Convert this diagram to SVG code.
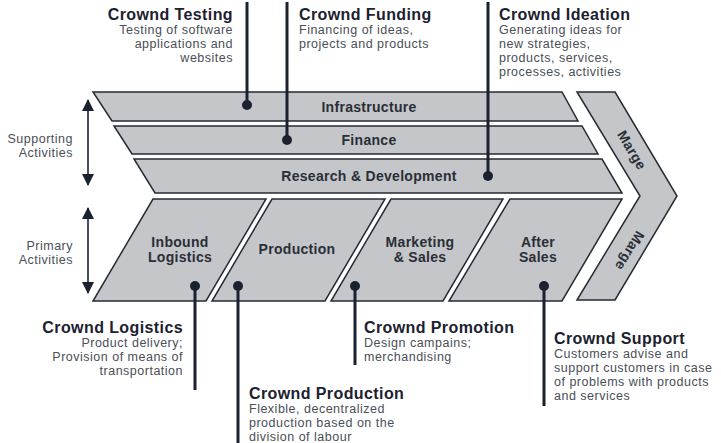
<svg xmlns="http://www.w3.org/2000/svg" width="721" height="443" viewBox="0 0 721 443">
  <defs>
    <style>
      .shape { fill: #c4c6c9; stroke: #252a35; stroke-width: 1.5; stroke-linejoin: miter; }
      .label { font-family: "Liberation Sans", Arial, sans-serif; font-weight: bold; font-size: 14px; letter-spacing: 0.3px; fill: #2a2e37; text-anchor: middle; }
      .title { font-family: "Liberation Sans", Arial, sans-serif; font-weight: bold; font-size: 16px; letter-spacing: 0.4px; fill: #1c2130; }
      .desc { font-family: "Liberation Sans", Arial, sans-serif; font-size: 12.5px; letter-spacing: 0.5px; fill: #4a4e57; }
      .side { font-family: "Liberation Sans", Arial, sans-serif; font-size: 12.5px; letter-spacing: 0.5px; fill: #4a4e57; text-anchor: end; }
      .end { text-anchor: end; }
      .lead { stroke: #1c2130; stroke-width: 3; fill: none; }
      .dot { fill: #1c2130; }
      .span { stroke: #4b4f57; stroke-width: 2; fill: none; marker-start: url(#head); marker-end: url(#head); }
    </style>
    <marker id="head" viewBox="0 0 12 12" refX="11" refY="6" markerWidth="12" markerHeight="12" markerUnits="userSpaceOnUse" orient="auto-start-reverse">
      <path d="M0,0 L12,6 L0,12 Z" fill="#1c2130"/>
    </marker>
  </defs>

  <!-- Support activity bands -->
  <g id="infrastructure">
    <polygon class="shape" points="93,92 562,92 578,121 112,121"/>
    <text class="label" x="369" y="112">Infrastructure</text>
  </g>
  <g id="finance">
    <polygon class="shape" points="114,126 582,126 598,154 132,154"/>
    <text class="label" x="369" y="145">Finance</text>
  </g>
  <g id="research-development">
    <polygon class="shape" points="134,159 602,159 622,193 155,193"/>
    <text class="label" x="369" y="181">Research &amp; Development</text>
  </g>

  <!-- Primary activity blocks -->
  <g id="inbound-logistics">
    <polygon class="shape" points="153,199 266,199 206,301 93,301"/>
    <text class="label" x="180" y="247">Inbound</text>
    <text class="label" x="180" y="262">Logistics</text>
  </g>
  <g id="production">
    <polygon class="shape" points="272,199 385,199 325,301 212,301"/>
    <text class="label" x="297" y="254">Production</text>
  </g>
  <g id="marketing-sales">
    <polygon class="shape" points="391,199 503,199 443,301 331,301"/>
    <text class="label" x="420" y="247">Marketing</text>
    <text class="label" x="420" y="262">&amp; Sales</text>
  </g>
  <g id="after-sales">
    <polygon class="shape" points="510,199 622,199 562,301 449,301"/>
    <text class="label" x="538" y="247">After</text>
    <text class="label" x="538" y="262">Sales</text>
  </g>

  <!-- Margin chevron -->
  <g id="marge">
    <polygon class="shape" points="577,92 615,92 677,196 615,300 577,300 640,196"/>
    <text class="label" font-size="13" transform="translate(632,150) rotate(59)" y="5">Marge</text>
    <text class="label" font-size="13" transform="translate(630,251) rotate(121)" y="5">Marge</text>
  </g>

  <!-- Activity range indicators -->
  <g id="supporting-activities">
    <line class="span" x1="88" y1="100" x2="88" y2="185"/>
    <text class="side" x="73" y="143">Supporting</text>
    <text class="side" x="73" y="157">Activities</text>
  </g>
  <g id="primary-activities">
    <line class="span" x1="88" y1="208" x2="88" y2="293"/>
    <text class="side" x="73" y="250">Primary</text>
    <text class="side" x="73" y="264">Activities</text>
  </g>

  <!-- Leader lines from each service to its activity -->
  <g id="connectors">
    <line class="lead" x1="247" y1="2" x2="247" y2="105"/>
    <circle class="dot" cx="247" cy="105" r="5"/>
    <line class="lead" x1="287" y1="2" x2="287" y2="140"/>
    <circle class="dot" cx="287" cy="140" r="5"/>
    <line class="lead" x1="488" y1="2" x2="488" y2="176"/>
    <circle class="dot" cx="488" cy="176" r="5"/>
    <line class="lead" x1="195" y1="286" x2="195" y2="390"/>
    <circle class="dot" cx="195" cy="286" r="5"/>
    <line class="lead" x1="238" y1="286" x2="238" y2="443"/>
    <circle class="dot" cx="238" cy="286" r="5"/>
    <line class="lead" x1="355" y1="286" x2="355" y2="365"/>
    <circle class="dot" cx="355" cy="286" r="5"/>
    <line class="lead" x1="544" y1="286" x2="544" y2="406"/>
    <circle class="dot" cx="544" cy="286" r="5"/>
  </g>

  <!-- Service descriptions -->
  <g id="crownd-testing">
    <text class="title end" x="233" y="20">Crownd Testing</text>
    <text class="desc end" x="233" y="34">Testing of software</text>
    <text class="desc end" x="233" y="48">applications and</text>
    <text class="desc end" x="233" y="62">websites</text>
  </g>
  <g id="crownd-funding">
    <text class="title" x="299" y="20">Crownd Funding</text>
    <text class="desc" x="299" y="34">Financing of ideas,</text>
    <text class="desc" x="299" y="48">projects and products</text>
  </g>
  <g id="crownd-ideation">
    <text class="title" x="499" y="20">Crownd Ideation</text>
    <text class="desc" x="499" y="34">Generating ideas for</text>
    <text class="desc" x="499" y="48">new strategies,</text>
    <text class="desc" x="499" y="62">products, services,</text>
    <text class="desc" x="499" y="76">processes, activities</text>
  </g>
  <g id="crownd-logistics">
    <text class="title end" x="183" y="333">Crownd Logistics</text>
    <text class="desc end" x="183" y="347">Product delivery;</text>
    <text class="desc end" x="183" y="361">Provision of means of</text>
    <text class="desc end" x="183" y="375">transportation</text>
  </g>
  <g id="crownd-production">
    <text class="title" x="249" y="399">Crownd Production</text>
    <text class="desc" x="249" y="413">Flexible, decentralized</text>
    <text class="desc" x="249" y="427">production based on the</text>
    <text class="desc" x="249" y="441">division of labour</text>
  </g>
  <g id="crownd-promotion">
    <text class="title" x="364" y="333">Crownd Promotion</text>
    <text class="desc" x="364" y="347">Design campains;</text>
    <text class="desc" x="364" y="361">merchandising</text>
  </g>
  <g id="crownd-support">
    <text class="title" x="554" y="344">Crownd Support</text>
    <text class="desc" x="554" y="358">Customers advise and</text>
    <text class="desc" x="554" y="372">support customers in case</text>
    <text class="desc" x="554" y="386">of problems with products</text>
    <text class="desc" x="554" y="400">and services</text>
  </g>
</svg>
